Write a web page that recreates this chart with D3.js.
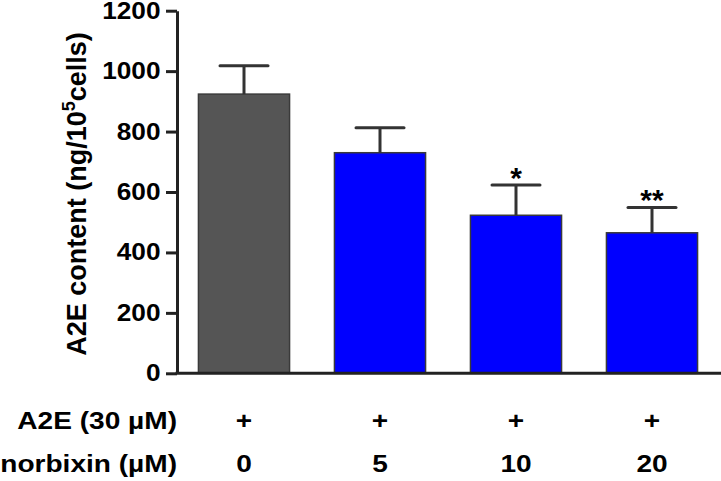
<!DOCTYPE html>
<html>
<head>
<meta charset="utf-8">
<script src="https://cdn.jsdelivr.net/npm/d3@7"></script>
<style>
  html, body { margin: 0; padding: 0; background: #fff; }
  svg { display: block; }
  text { font-family: "Liberation Sans", Arial, Helvetica, sans-serif; font-weight: bold; fill: #000; }
</style>
</head>
<body>
<svg id="chart" width="721" height="481"></svg>
<script>
// ---- data ----
const categories = ["0", "5", "10", "20"];           // norbixin (µM)
const a2eRow = ["+", "+", "+", "+"];                  // A2E (30 µM)
const means = [924, 730, 523, 465];                   // A2E content
const errors = [94, 83, 100, 84];                     // error
const significance = ["", "", "*", "**"];
const yTicks = [0, 200, 400, 600, 800, 1000, 1200];
const barColors = ["#555555", "#0000ff", "#0000ff", "#0000ff"];

// ---- layout ----
const svg = d3.select("#chart");
const axisX = 177, axisY0 = 373.3, axisY1 = 10.7, rightEnd = 721;

const x = d3.scaleBand().domain(categories).range([176, 720])
  .paddingInner(0.33).paddingOuter(0.165);
const y = d3.scaleLinear().domain([0, 1200]).range([axisY0, axisY1]);

// bars
const g = svg.append("g");
g.selectAll("rect.bar").data(means).join("rect")
  .attr("class", "bar")
  .attr("x", (d, i) => x(categories[i]))
  .attr("y", d => y(d))
  .attr("width", x.bandwidth())
  .attr("height", d => y(0) - y(d))
  .attr("fill", (d, i) => barColors[i])
  .attr("stroke", "#3a3a3a")
  .attr("stroke-width", 1.5);

// error bars
const capHalf = 24;
const eb = g.selectAll("g.err").data(means).join("g").attr("class", "err");
eb.append("line")
  .attr("x1", (d, i) => x(categories[i]) + x.bandwidth() / 2)
  .attr("x2", (d, i) => x(categories[i]) + x.bandwidth() / 2)
  .attr("y1", d => y(d))
  .attr("y2", (d, i) => y(d + errors[i]))
  .attr("stroke", "#333").attr("stroke-width", 3);
eb.append("line")
  .attr("x1", (d, i) => x(categories[i]) + x.bandwidth() / 2 - capHalf)
  .attr("x2", (d, i) => x(categories[i]) + x.bandwidth() / 2 + capHalf)
  .attr("y1", (d, i) => y(d + errors[i]))
  .attr("y2", (d, i) => y(d + errors[i]))
  .attr("stroke", "#333").attr("stroke-width", 3).attr("stroke-linecap", "round");

// significance stars
g.selectAll("text.sig").data(significance).join("text")
  .attr("class", "sig")
  .attr("text-anchor", "middle")
  .attr("font-size", 30)
  .attr("x", (d, i) => x(categories[i]) + x.bandwidth() / 2)
  .attr("y", (d, i) => y(means[i] + errors[i]) + 3)
  .text(d => d);

// y axis
const yAxis = d3.axisLeft(y).tickValues(yTicks).tickSize(11).tickSizeOuter(0).tickFormat("");
const ya = svg.append("g").attr("transform", `translate(${axisX},0)`).call(yAxis);
ya.select(".domain").attr("stroke", "#222").attr("stroke-width", 3);
ya.selectAll(".tick line").attr("stroke", "#222").attr("stroke-width", 3);

// y tick labels
svg.append("g").selectAll("text").data(yTicks).join("text")
  .attr("transform", d => `translate(160.5,${y(d) + 8}) scale(1.14,1)`)
  .attr("text-anchor", "end")
  .attr("font-size", 23)
  .text(d => d);

// x axis line
svg.append("line")
  .attr("x1", axisX - 1.5).attr("x2", rightEnd)
  .attr("y1", y(0)).attr("y2", y(0))
  .attr("stroke", "#222").attr("stroke-width", 3);

// y axis title
const yt = svg.append("text")
  .attr("transform", "translate(86,194) rotate(-90)")
  .attr("text-anchor", "middle")
  .attr("font-size", 27);
yt.append("tspan").text("A2E content (ng/10");
yt.append("tspan").attr("font-size", 18).attr("dy", -11).text("5");
yt.append("tspan").attr("dy", 11).text("cells)");

// bottom rows
const rowLabels = ["A2E (30 µM)", "norbixin (µM)"];
const rowBaselines = [429, 472];
svg.append("g").selectAll("text").data(rowLabels).join("text")
  .attr("transform", (d, i) => `translate(177,${rowBaselines[i]}) scale(1.17,1)`)
  .attr("text-anchor", "end")
  .attr("font-size", 24)
  .text(d => d);

svg.append("g").selectAll("text").data(a2eRow).join("text")
  .attr("transform", (d, i) => `translate(${x(categories[i]) + x.bandwidth() / 2},${rowBaselines[0]}) scale(1.17,1)`)
  .attr("text-anchor", "middle")
  .attr("font-size", 24)
  .text(d => d);

svg.append("g").selectAll("text").data(categories).join("text")
  .attr("transform", (d, i) => `translate(${x(d) + x.bandwidth() / 2},${rowBaselines[1]}) scale(1.17,1)`)
  .attr("text-anchor", "middle")
  .attr("font-size", 24)
  .text(d => d);
</script>
</body>
</html>
